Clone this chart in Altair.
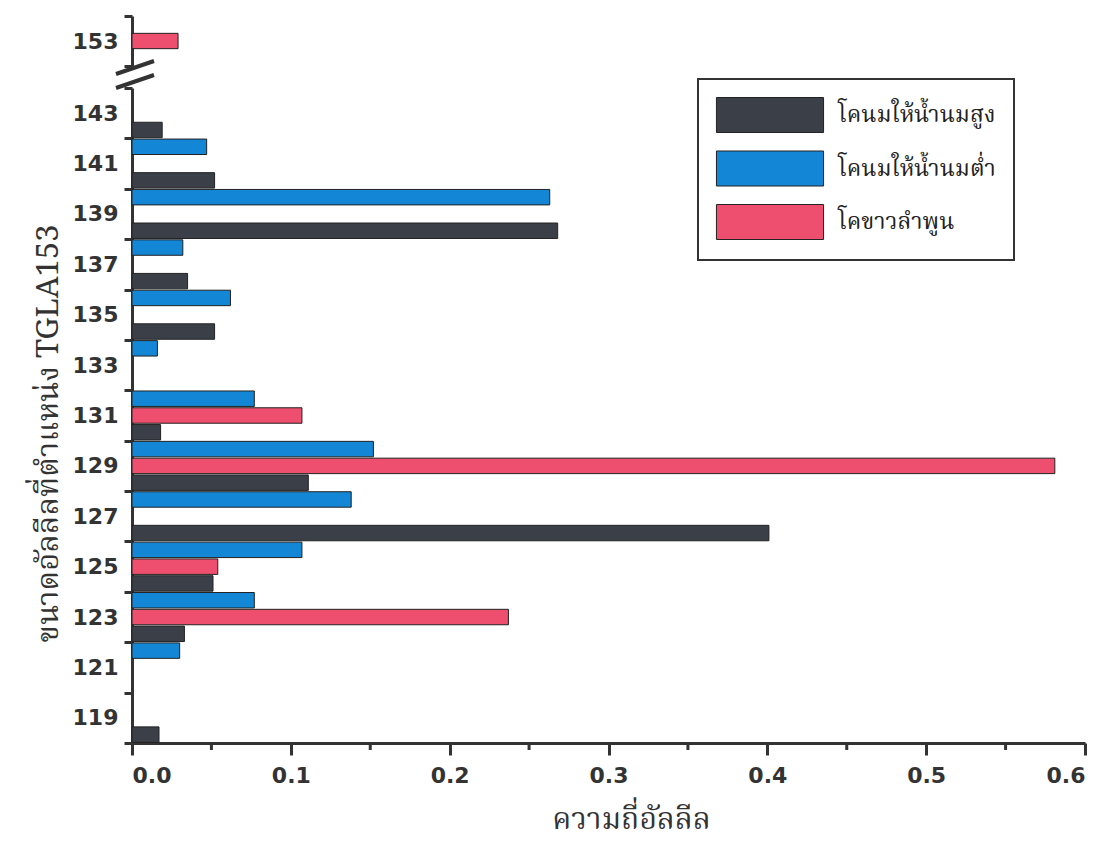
import altair as alt
import pandas as pd

# allele sizes (top to bottom) and allele frequencies per group (None = no bar)
alleles = ["153", "143", "141", "139", "137", "135", "133", "131", "129", "127", "125", "123", "121", "119"]
high_milk = [None, 0.019, 0.052, 0.268, 0.035, 0.052, None, 0.018, 0.111, 0.401, 0.051, 0.033, None, 0.017]
low_milk = [None, None, 0.047, 0.263, 0.032, 0.062, 0.016, 0.077, 0.152, 0.138, 0.107, 0.077, 0.030, None]
lamphun = [0.029, None, None, None, None, None, None, 0.107, 0.581, None, 0.054, 0.237, None, None]

groups = ["โคนมให้น้ำนมสูง", "โคนมให้น้ำนมต่ำ", "โคขาวลำพูน"]
colors = ["#3b4048", "#1386d6", "#ef4f6e"]
slot_order = ["โคนมให้น้ำนมต่ำ", "โคขาวลำพูน", "โคนมให้น้ำนมสูง"]  # top to bottom within a band

x_ticks = [0.0, 0.1, 0.2, 0.3, 0.4, 0.5, 0.6]
x_minor = [0.05, 0.15, 0.25, 0.35, 0.45, 0.55]

rows = []
for g, series in zip(groups, [high_milk, low_milk, lamphun]):
    for a, v in zip(alleles, series):
        if v is not None:
            rows.append({"allele": a, "group": g, "freq": v})
df = pd.DataFrame(rows)

W = 953
H_TOP = 50
H_BOT = 655
TXT = "#333333"
NUM_FONT = "DejaVu Sans"
THAI_FONT = "Noto Serif Thai, Noto Sans Thai, Loma, Garuda, Norasi, serif"

x_scale = alt.Scale(domain=[0, 0.6], nice=False, zero=True)
off_scale = alt.Scale(domain=slot_order, paddingInner=0.08, paddingOuter=0.04)


def y_axis(title=None):
    kw = dict(
        tickBand="extent", tickSize=8, tickWidth=3, tickColor=TXT,
        domainColor=TXT, domainWidth=3,
        labelFont=NUM_FONT, labelFontWeight="bold", labelFontSize=22, labelColor=TXT,
        labelPadding=6, grid=False,
    )
    if title:
        return alt.Axis(title=title, titleFont=THAI_FONT, titleFontSize=31, titleFontWeight="normal",
                        titleColor=TXT, titlePadding=8, titleY=345, **kw)
    return alt.Axis(title=None, **kw)


def bars(data_filter, domain, height, show_x, legend):
    base = alt.Chart(df).transform_filter(data_filter)
    b = base.mark_bar(stroke="#222222", strokeWidth=1).encode(
        x=alt.X("freq:Q", scale=x_scale,
                axis=alt.Axis(values=x_ticks, format=".1f", tickSize=12, tickWidth=3, tickColor=TXT,
                              domainColor=TXT, domainWidth=3, grid=False,
                              labelFont=NUM_FONT, labelFontWeight="bold", labelFontSize=22,
                              labelColor=TXT, labelPadding=10,
                              title="ความถี่อัลลีล", titleFont=THAI_FONT, titleFontSize=30,
                              titleFontWeight="normal", titleColor=TXT, titlePadding=18,
                              titleX=499)
                if show_x else None),
        y=alt.Y("allele:N", sort=domain,
                scale=alt.Scale(domain=domain, paddingInner=0, paddingOuter=0),
                axis=y_axis("ขนาดอัลลีลที่ตำแหน่ง TGLA153" if show_x else None)),
        yOffset=alt.YOffset("group:N", sort=slot_order, scale=off_scale),
        color=alt.Color("group:N", scale=alt.Scale(domain=groups, range=colors), legend=legend),
    )
    return b.properties(width=W, height=height)


legend = alt.Legend(
    orient="none", legendX=566, legendY=-9, title=None,
    symbolType="M-3.06,-1L3.06,-1L3.06,1L-3.06,1Z", symbolSize=1225, symbolOffset=36,
    symbolStrokeColor="#222222", symbolStrokeWidth=1, symbolOpacity=1,
    labelFont=THAI_FONT, labelFontSize=23, labelColor="#222222", labelOffset=50, labelLimit=400,
    rowPadding=13.5, padding=18, strokeColor="#333333", fillColor="white",
)

top_bars = bars(alt.datum.allele == "153", ["153"], H_TOP, False, None)

one = pd.DataFrame({"k": [0]})
slash1 = alt.Chart(one).mark_rule(color=TXT, strokeWidth=4).encode(
    x=alt.value(-16), x2=alt.value(22), y=alt.value(58), y2=alt.value(45))
slash2 = alt.Chart(one).mark_rule(color=TXT, strokeWidth=4).encode(
    x=alt.value(-16), x2=alt.value(22), y=alt.value(72), y2=alt.value(59))
top = alt.layer(top_bars, slash1, slash2).properties(width=W, height=H_TOP)

bot_domain = alleles[1:]
bot_bars = bars(alt.datum.allele != "153", bot_domain, H_BOT, True, legend)
minor = alt.Chart(pd.DataFrame({"m": x_minor})).mark_rule(color=TXT, strokeWidth=3).encode(
    x=alt.X("m:Q", scale=x_scale), y=alt.value(H_BOT), y2=alt.value(H_BOT + 7))
bottom = alt.layer(bot_bars, minor).properties(width=W, height=H_BOT)

chart = alt.vconcat(top, bottom, spacing=22, bounds="flush").resolve_scale(
    y="independent", color="independent", yOffset="independent"
).resolve_legend(color="independent").properties(
    padding={"left": 24, "top": -3, "right": 5, "bottom": 15}
).configure(background="white").configure_view(stroke="transparent", strokeWidth=0).configure_legend(strokeWidth=2)

chart.save("out.html", embed_options={"renderer": "svg", "actions": False})
